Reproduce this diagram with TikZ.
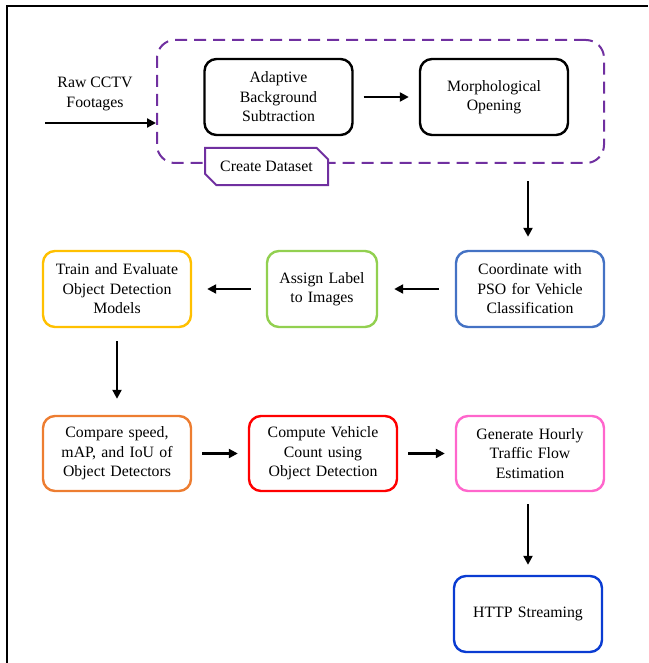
\documentclass[tikz,border=0pt]{standalone}
\usepackage{fontspec}
\setmainfont{Liberation Serif}
\usepackage{xcolor}
\definecolor{moradoDS}{HTML}{7030A0}
\definecolor{amarilloTE}{HTML}{FFC000}
\definecolor{verdeAL}{HTML}{92D050}
\definecolor{azulPSO}{HTML}{4472C4}
\definecolor{naranjaCO}{HTML}{ED7D31}
\definecolor{rojoVC}{HTML}{FF0000}
\definecolor{rosaTF}{HTML}{FF66CC}
\definecolor{azulHS}{HTML}{0A3CD2}
\usetikzlibrary{arrows.meta,positioning,shapes.misc}
\newcommand{\etapafont}{\fontsize{15.8}{19.5}\selectfont}

\begin{document}
\begin{tikzpicture}[x=1pt,y=-1pt,
  etapa/.style={draw,line width=2.4pt,rounded corners=12pt,minimum width=148pt,
    minimum height=76pt,text width=140pt,align=center,inner sep=0pt,font=\etapafont},
  flujo/.style={-{Triangle[length=9pt,width=9pt]},line width=2.2pt}]
  \useasboundingbox (0,0) rectangle (648,663);
  \draw[line width=2.4pt] (7,663)--(7,6)--(648,6);

  % dataset block
  \node[draw=moradoDS,line width=2pt,dash pattern=on 12pt off 7pt,rounded corners=18pt,
    minimum width=447pt,minimum height=123pt] (dataset) at (380.5,101.5) {};
  \node[etapa] (abs) at (278.5,97) {Adaptive\\Background\\Subtraction};
  \node[etapa] (morph) at (494,97) {Morphological\\Opening};
  \node[draw=moradoDS,fill=white,line width=2pt,chamfered rectangle,
    chamfered rectangle corners={north east,south west},chamfered rectangle sep=6pt,
    minimum width=123pt,minimum height=37pt,inner sep=0pt,font=\etapafont] (tab)
    at (266.5,166.5) {Create Dataset};
  \node[font=\etapafont,align=center] (raw) at (95,94) {Raw CCTV\\Footages};
  \coordinate (entrada) at (45,123);

  % second row
  \node[etapa,draw=azulPSO] (coord) at (530,289) {Coordinate with\\PSO for Vehicle\\Classification};
  \node[etapa,draw=verdeAL,minimum width=110pt,text width=104pt] (assign) at (322,289) {Assign Label\\to Images};
  \node[etapa,draw=amarilloTE] (train) at (117,289) {Train and Evaluate\\Object Detection\\Models};

  % third row
  \node[etapa,draw=naranjaCO,minimum height=75pt] (compare) at (117,453.5) {Compare speed,\\mAP, and IoU of\\Object Detectors};
  \node[etapa,draw=rojoVC,minimum height=75pt] (compute) at (323,453.5) {Compute Vehicle\\Count using\\Object Detection};
  \node[etapa,draw=rosaTF,minimum height=75pt] (generate) at (530,453.5) {Generate Hourly\\Traffic Flow\\Estimation};
  \node[etapa,draw=azulHS] (http) at (528,614) {HTTP Streaming};

  \draw[flujo] (entrada) -- (entrada -| dataset.west);
  \draw[flujo,shorten >=13pt] (coord.north |- dataset.south) ++(-2,17) -- ([xshift=-2pt]coord.north);
  \foreach \a/\b/\s in {abs/morph/10,coord/assign/16,assign/train/15,compare/compute/10,compute/generate/10}
    \draw[flujo,shorten <=\s pt,shorten >=\s pt] (\a) -- (\b);
  \draw[flujo,shorten <=13pt,shorten >=16pt] (train) -- (compare);
  \draw[flujo,shorten <=12pt,shorten >=10pt] ([xshift=-2pt]generate.south) -- (http.north);
\end{tikzpicture}
\end{document}
